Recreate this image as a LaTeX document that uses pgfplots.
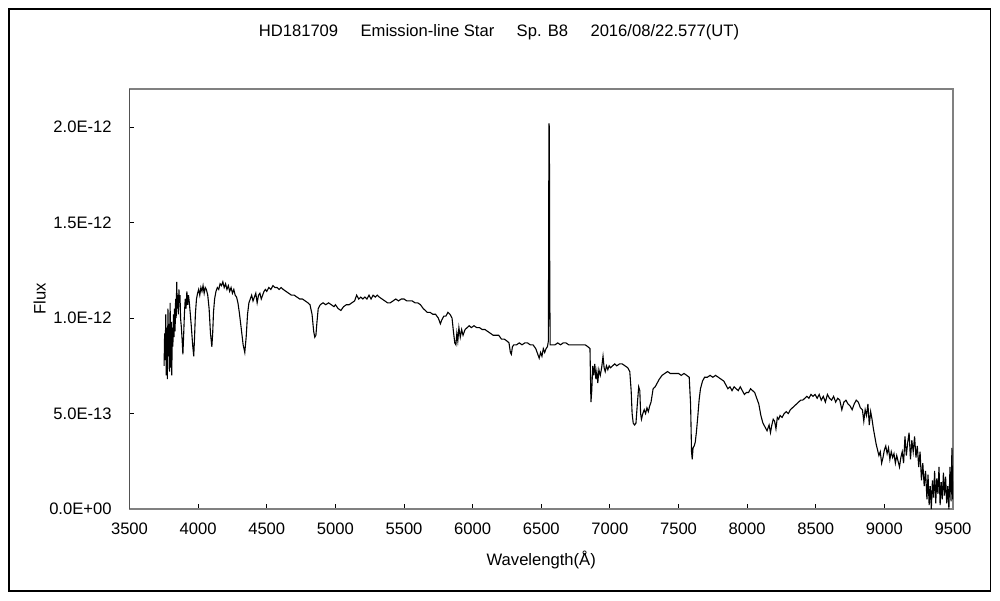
\documentclass[border=0pt]{standalone}
\usepackage{pgfplots}
\pgfplotsset{compat=1.18}
\usepackage{fontspec}
\setmainfont{Liberation Sans}
\begin{document}
\fontsize{8.3pt}{10pt}\selectfont
\begin{tikzpicture}
\useasboundingbox (0,0) rectangle (500pt,300pt);
\draw[black, line width=0.6pt] (4.5pt,4.5pt) rectangle (495.25pt,295.5pt);
\node[anchor=center] at (249.5pt,284pt) {HD181709\hspace{1.35em}Emission-line Star\hspace{1.35em}Sp. B8\hspace{1.35em}2016/08/22.577(UT)};
\begin{axis}[
  at={(64.75pt,45.5pt)}, anchor=south west,
  scale only axis, width=411.75pt, height=210pt,
  xmin=3500, xmax=9500, ymin=0, ymax=2.2,
  xtick={3500,4000,...,9500},
  ytick={0,0.5,1,1.5,2},
  yticklabels={0.0E+00,5.0E-13,1.0E-12,1.5E-12,2.0E-12},
  /pgf/number format/assume math mode=true,
  /pgf/number format/set thousands separator={},
  tick pos=left, tick align=inside,
  major tick length=2.3pt,
  tick style={black, line width=0.5pt},
  axis line style={draw=gray, line width=0.8pt},
  ticklabel style={font=\fontsize{8.3pt}{10pt}\selectfont},
  xticklabel style={yshift=-4pt},
  yticklabel style={xshift=-6pt},
  xlabel={Wavelength(Å)},
  ylabel={Flux},
  xlabel style={at={(axis description cs:0.5,-0.121)}, anchor=center},
  ylabel style={at={(axis description cs:-0.109,0.5)}, anchor=center, rotate=0},
]
\addplot[black, line width=0.55pt] coordinates {
(3752,0.75) (3756,0.92) (3760,0.78) (3764,1.02) (3768,0.70) (3772,0.95) (3776,0.68) (3780,1.05) (3784,0.80) (3788,0.97) (3792,0.72) (3796,1.08) (3800,0.74) (3804,0.98) (3808,0.70) (3812,0.95) (3816,0.85) (3820,1.02) (3824,0.90) (3828,1.05) (3832,0.93) (3836,1.10) (3840,1.00) (3844,1.19) (3848,1.05) (3852,1.12) (3856,1.02) (3860,1.15) (3864,1.08) (3868,1.12) (3872,1.00) (3878,0.95) (3884,0.88) (3889,0.81) (3894,0.90) (3900,1.02) (3906,1.10) (3912,1.05) (3918,1.14) (3924,1.07) (3930,1.12) (3936,1.08) (3942,1.03) (3950,0.96) (3960,0.86) (3968,0.80) (3974,0.90) (3980,1.02) (3988,1.10) (3996,1.13) (4004,1.15) (4012,1.12) (4020,1.16) (4028,1.14) (4036,1.17) (4044,1.13) (4052,1.16) (4060,1.15) (4070,1.12) (4080,1.05) (4090,0.92) (4100,0.85) (4106,0.92) (4112,1.03) (4120,1.10) (4130,1.14) (4140,1.16) (4150,1.15) (4160,1.18) (4170,1.17) (4180,1.19) (4190,1.16) (4200,1.18) (4210,1.15) (4220,1.17) (4230,1.14) (4240,1.16) (4250,1.13) (4260,1.15) (4270,1.12) (4280,1.11) (4290,1.08) (4300,1.03) (4315,0.94) (4328,0.86) (4340,0.82) (4350,0.90) (4360,1.02) (4370,1.08) (4380,1.10) (4390,1.12) (4400,1.09) (4410,1.11) (4420,1.13) (4430,1.08) (4440,1.12) (4450,1.13) (4460,1.10) (4470,1.12) (4480,1.14) (4490,1.15) (4500,1.14) (4515,1.16) (4530,1.15) (4545,1.17) (4560,1.16) (4575,1.16) (4590,1.15) (4605,1.16) (4620,1.15) (4640,1.14) (4660,1.13) (4680,1.12) (4700,1.12) (4720,1.11) (4740,1.10) (4760,1.10) (4780,1.09) (4800,1.08) (4815,1.07) (4830,1.02) (4842,0.93) (4850,0.90) (4858,0.91) (4866,0.98) (4875,1.05) (4890,1.07) (4910,1.08) (4930,1.07) (4950,1.08) (4970,1.07) (4990,1.06) (5000,1.07) (5020,1.05) (5040,1.04) (5060,1.06) (5080,1.07) (5100,1.07) (5120,1.08) (5140,1.09) (5155,1.12) (5170,1.10) (5185,1.11) (5200,1.10) (5215,1.11) (5230,1.10) (5245,1.12) (5260,1.10) (5275,1.12) (5290,1.11) (5305,1.12) (5320,1.11) (5340,1.10) (5360,1.09) (5380,1.08) (5400,1.08) (5420,1.09) (5440,1.10) (5460,1.09) (5480,1.10) (5500,1.10) (5520,1.09) (5540,1.09) (5560,1.09) (5580,1.08) (5600,1.08) (5620,1.07) (5640,1.05) (5655,1.04) (5670,1.03) (5690,1.03) (5710,1.02) (5730,1.02) (5750,1.00) (5765,0.97) (5775,0.99) (5790,1.01) (5805,1.01) (5820,1.03) (5835,1.02) (5850,1.00) (5860,0.93) (5870,0.87) (5878,0.86) (5885,0.92) (5892,0.88) (5900,0.95) (5910,0.90) (5920,0.94) (5930,0.91) (5945,0.94) (5960,0.95) (5975,0.96) (5990,0.95) (6010,0.96) (6030,0.95) (6050,0.95) (6070,0.94) (6090,0.94) (6110,0.93) (6130,0.92) (6150,0.91) (6170,0.91) (6190,0.91) (6210,0.89) (6230,0.89) (6250,0.88) (6265,0.87) (6275,0.82) (6282,0.81) (6290,0.85) (6300,0.86) (6320,0.86) (6340,0.87) (6360,0.86) (6380,0.87) (6400,0.87) (6420,0.86) (6440,0.86) (6460,0.84) (6475,0.81) (6485,0.79) (6495,0.82) (6505,0.80) (6515,0.84) (6525,0.82) (6535,0.84) (6545,0.85) (6552,0.88) (6556,2.02) (6559,2.00) (6562,1.16) (6565,0.86) (6575,0.86) (6600,0.86) (6620,0.87) (6640,0.86) (6660,0.87) (6680,0.87) (6700,0.86) (6720,0.86) (6740,0.86) (6760,0.86) (6780,0.86) (6800,0.86) (6820,0.86) (6840,0.85) (6855,0.84) (6862,0.56) (6868,0.62) (6875,0.75) (6882,0.70) (6890,0.76) (6898,0.68) (6905,0.72) (6912,0.66) (6920,0.73) (6930,0.70) (6940,0.74) (6950,0.80) (6958,0.74) (6966,0.72) (6975,0.75) (6985,0.73) (6995,0.75) (7005,0.74) (7020,0.75) (7035,0.76) (7050,0.75) (7070,0.76) (7090,0.76) (7110,0.75) (7130,0.74) (7145,0.72) (7155,0.62) (7162,0.50) (7170,0.45) (7180,0.44) (7190,0.45) (7200,0.55) (7210,0.64) (7218,0.62) (7224,0.50) (7230,0.47) (7240,0.50) (7250,0.52) (7260,0.50) (7270,0.53) (7280,0.51) (7290,0.54) (7300,0.56) (7315,0.63) (7330,0.64) (7345,0.66) (7360,0.68) (7380,0.70) (7400,0.71) (7420,0.72) (7440,0.71) (7460,0.71) (7480,0.71) (7500,0.71) (7520,0.70) (7540,0.71) (7560,0.70) (7578,0.69) (7588,0.55) (7595,0.30) (7600,0.26) (7606,0.32) (7614,0.33) (7622,0.35) (7630,0.40) (7640,0.48) (7650,0.57) (7660,0.63) (7675,0.67) (7690,0.69) (7710,0.69) (7730,0.70) (7750,0.69) (7770,0.70) (7790,0.69) (7810,0.68) (7830,0.67) (7845,0.65) (7860,0.63) (7875,0.64) (7890,0.62) (7905,0.64) (7920,0.63) (7935,0.62) (7950,0.64) (7965,0.62) (7980,0.60) (7995,0.61) (8010,0.61) (8025,0.63) (8040,0.62) (8055,0.61) (8070,0.58) (8085,0.55) (8100,0.49) (8115,0.45) (8130,0.43) (8145,0.41) (8160,0.44) (8170,0.40) (8180,0.44) (8190,0.47) (8200,0.46) (8210,0.42) (8220,0.48) (8230,0.47) (8240,0.49) (8255,0.48) (8270,0.50) (8285,0.51) (8300,0.50) (8315,0.52) (8330,0.53) (8345,0.54) (8360,0.55) (8375,0.56) (8390,0.57) (8405,0.57) (8420,0.58) (8435,0.59) (8450,0.58) (8465,0.60) (8480,0.59) (8495,0.60) (8510,0.58) (8525,0.60) (8540,0.57) (8555,0.59) (8570,0.56) (8585,0.60) (8600,0.58) (8615,0.57) (8630,0.59) (8645,0.56) (8660,0.58) (8675,0.57) (8690,0.52) (8705,0.56) (8720,0.57) (8735,0.55) (8750,0.54) (8765,0.52) (8780,0.55) (8795,0.57) (8810,0.56) (8825,0.53) (8840,0.52) (8850,0.46) (8860,0.52) (8870,0.49) (8880,0.55) (8890,0.44) (8900,0.51) (8910,0.47) (8920,0.42) (8930,0.38) (8940,0.34) (8950,0.31) (8960,0.28) (8970,0.30) (8980,0.24) (8990,0.27) (9000,0.31) (9010,0.33) (9020,0.29) (9030,0.32) (9040,0.26) (9050,0.30) (9060,0.27) (9070,0.29) (9080,0.24) (9090,0.28) (9100,0.25) (9110,0.22) (9120,0.27) (9130,0.30) (9140,0.24) (9150,0.38) (9160,0.28) (9170,0.35) (9180,0.40) (9190,0.26) (9200,0.36) (9210,0.30) (9220,0.38) (9230,0.27) (9240,0.33) (9250,0.22) (9260,0.30) (9270,0.15) (9280,0.24) (9290,0.12) (9300,0.20) (9310,0.05) (9318,0.18) (9326,0.02) (9334,0.12) (9342,0.00) (9350,0.15) (9358,0.06) (9366,0.20) (9374,0.03) (9382,0.16) (9390,0.08) (9398,0.22) (9406,0.02) (9414,0.14) (9422,0.05) (9430,0.19) (9438,0.07) (9446,0.17) (9454,0.03) (9462,0.12) (9470,0.00) (9478,0.22) (9486,0.04) (9492,0.32) (9498,0.05)
};
\draw[black, line width=0.6pt] (rel axis cs:0,0) -- (rel axis cs:0,1);
\end{axis}
\end{tikzpicture}
\end{document}
